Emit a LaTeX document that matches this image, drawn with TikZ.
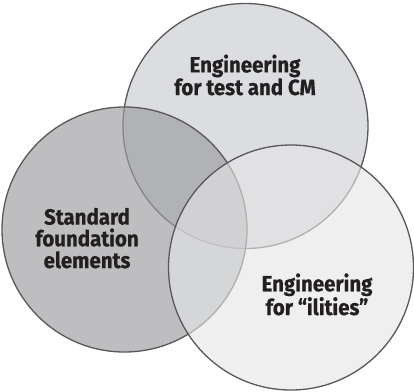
\documentclass[tikz,border=0pt]{standalone}
\usepackage{fontspec}
\newfontfamily\lblfont{Fira Sans}[FakeStretch=0.93, BoldFeatures={FakeBold=0.6}]
\definecolor{edge}{RGB}{88,88,90}
\definecolor{topfill}{RGB}{220,221,224}
\definecolor{leftfill}{RGB}{156,157,160}
\definecolor{rightfill}{RGB}{229,229,230}
\definecolor{ink}{RGB}{35,31,32}
\tikzset{
  venn/.style={circle, draw=edge, line width=1.3pt, minimum size=245pt, inner sep=0pt},
  lbl/.style={align=center, text=ink, anchor=base, font=\lblfont\bfseries\fontsize{22}{21}\selectfont}
}
\begin{document}
\begin{tikzpicture}[x=1pt,y=-1pt]
\useasboundingbox (0,0) rectangle (414,391);
\node[venn, fill=topfill] (topc) at (245.5,126) {};
\node[venn, fill=leftfill, fill opacity=0.66] (leftc) at (124.5,229.5) {};
\node[venn, fill=rightfill, fill opacity=0.62] (rightc) at (291,267.5) {};
\node[lbl, font=\lblfont\bfseries\fontsize{22}{20}\selectfont] (toplbl) at (245,95) {Engineering\\for test and CM};
\node[lbl, font=\lblfont\bfseries\fontsize{22}{21.7}\selectfont] (leftlbl) at (87,268) {Standard\\foundation\\elements};
\node[lbl, font=\lblfont\bfseries\fontsize{22}{22}\selectfont] (rightlbl) at (317,315) {Engineering\\for “ilities”};
\end{tikzpicture}
\end{document}
